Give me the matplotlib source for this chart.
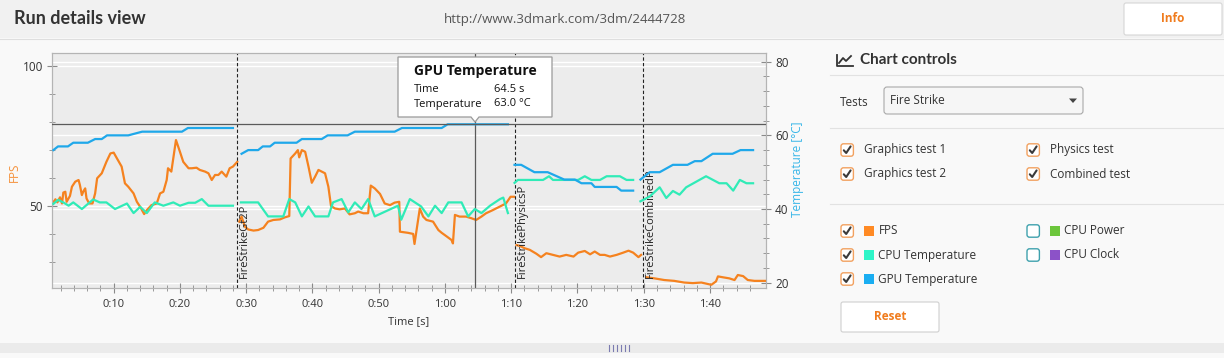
import matplotlib
matplotlib.use("Agg")
import matplotlib.pyplot as plt
from matplotlib.patches import FancyBboxPatch, Rectangle, Polygon
from matplotlib.transforms import blended_transform_factory

plt.rcParams["font.family"] = ["Open Sans", "DejaVu Sans"]

# ---- data (time in s) ----
fps_t1 = [0.7, 0.9, 1.2, 1.5, 1.9, 2.2, 2.4, 2.7, 2.9, 3.4, 3.7, 4.2, 4.7, 4.9, 5.2, 5.4, 5.7, 5.9, 6.3, 6.8,
          7.2, 7.5, 8.2, 8.9, 9.5, 10.0, 10.5, 11.2, 11.7, 12.2, 13.0, 13.5, 14.0, 14.6, 15.0, 15.7, 16.5, 17.0,
          17.5, 18.0, 18.2, 18.7, 19.4, 20.0, 20.5, 21.3, 21.8, 22.5, 23.0, 23.8, 24.3, 24.8, 25.3, 25.8, 26.3,
          27.0, 27.5, 28.0, 28.65]
fps_v1 = [52.0, 50.8, 52.3, 51.2, 53.0, 50.8, 54.7, 55.0, 51.4, 53.5, 56.8, 58.6, 59.2, 57.4, 53.8, 55.0, 56.2,
          52.6, 50.8, 50.8, 54.4, 59.8, 61.6, 65.7, 68.7, 69.0, 66.9, 64.0, 58.0, 56.8, 54.4, 51.4, 49.6, 47.0,
          48.4, 50.2, 50.8, 54.4, 55.0, 59.2, 63.4, 62.2, 73.5, 69.3, 65.7, 63.4, 63.4, 63.6, 62.8, 62.2, 61.6,
          59.2, 61.0, 61.0, 62.2, 60.4, 63.4, 64.0, 65.7]
fps_t2 = [28.95, 29.3, 29.8, 30.3, 31.1, 31.8, 32.6, 33.3, 34.1, 35.1, 35.8, 36.5, 36.7, 37.4, 37.8, 38.0, 38.4,
          38.9, 39.4, 39.9, 40.4, 40.9, 41.4, 41.9, 42.4, 42.8, 43.4, 44.1, 44.9, 45.6, 46.4, 46.9, 47.7, 48.4,
          48.8, 49.4, 50.2, 50.9, 51.7, 52.4, 53.1, 53.2, 54.4, 55.2, 55.4, 56.2, 56.7, 57.2, 58.2, 59.0, 59.5,
          60.2, 61.0, 61.2, 61.5, 62.2, 63.2, 64.0, 64.7, 65.5, 66.2, 67.2, 68.2, 69.2, 69.9, 70.4]
fps_v2 = [44.3, 46.1, 42.5, 41.5, 41.1, 41.3, 42.1, 44.3, 44.9, 45.1, 45.8, 46.3, 66.9, 68.7, 69.9, 67.3, 69.9,
          69.3, 64.0, 58.2, 60.4, 62.8, 62.2, 61.6, 56.8, 49.9, 49.0, 48.7, 49.0, 46.9, 47.3, 47.9, 47.3, 47.3,
          57.2, 56.2, 54.2, 50.8, 50.2, 51.1, 51.4, 40.7, 40.3, 39.9, 36.3, 49.0, 46.1, 44.9, 44.3, 41.3, 40.3,
          39.1, 37.7, 36.5, 46.7, 46.1, 46.1, 45.5, 44.9, 46.1, 47.3, 48.4, 49.6, 50.8, 53.2, 53.2]
fps_t3 = [70.8, 71.3, 72.0, 72.8, 73.8, 74.5, 75.3, 76.3, 77.3, 78.3, 79.4, 80.1, 81.1, 81.9, 82.6, 83.4, 84.1,
          84.9, 85.9, 86.9, 87.7, 88.4, 89.2, 89.6]
fps_v3 = [35.9, 35.6, 34.8, 34.2, 32.8, 31.6, 33.0, 32.4, 31.8, 32.4, 31.8, 33.2, 33.8, 32.6, 33.6, 32.4, 32.4,
          31.8, 32.4, 33.2, 33.9, 33.2, 31.6, 32.4]
fps_t4 = [90.4, 91.6, 93.1, 94.6, 96.1, 97.4, 98.7, 100.2, 100.9, 101.2, 101.9, 102.9, 103.7, 104.2, 105.0,
          105.7, 106.7, 108.4]
fps_v4 = [24.4, 24.0, 23.4, 23.1, 22.5, 22.3, 22.5, 21.7, 22.9, 24.7, 24.4, 24.0, 23.4, 25.2, 24.8, 23.4, 23.1,
          23.1]

cpu_t1 = [0.9, 1.6, 2.4, 3.2, 3.9, 5.2, 6.9, 7.9, 8.9, 10.2, 12.0, 13.0, 14.0, 15.0, 16.2, 17.5, 19.0, 20.0,
          21.3, 22.3, 23.3, 24.3, 28.0]
cpu_v1 = [41.4, 42.5, 41.8, 40.9, 41.8, 40.0, 42.6, 41.8, 41.8, 40.0, 41.5, 38.9, 40.6, 38.9, 41.8, 40.9, 41.8,
          40.9, 41.7, 41.7, 42.7, 40.9, 40.9]
cpu_t2 = [29.2, 31.8, 33.3, 35.6, 36.5, 37.4, 38.4, 39.4, 40.4, 42.4, 43.1, 44.4, 45.4, 46.4, 47.4, 48.4, 49.4,
          52.9, 53.4, 54.7, 56.4, 57.5, 58.5, 59.5, 60.5, 62.5, 63.5, 64.5, 65.5, 66.8, 68.3, 68.8, 69.5]
cpu_v2 = [41.8, 41.8, 38.0, 38.0, 42.7, 41.8, 38.0, 40.7, 38.0, 38.0, 41.8, 42.7, 39.1, 41.8, 40.0, 42.7, 38.0,
          40.9, 37.1, 42.7, 40.7, 38.0, 40.9, 38.9, 41.8, 41.8, 38.0, 40.0, 38.9, 40.9, 42.7, 43.1, 38.9]
cpu_t3 = [70.5, 71.0, 74.8, 75.7, 76.3, 80.1, 81.1, 82.1, 83.4, 84.4, 86.4, 87.4, 88.4]
cpu_v3 = [47.1, 47.9, 47.9, 48.9, 47.9, 47.9, 48.9, 47.9, 47.9, 48.9, 48.9, 47.9, 47.9]
cpu_t4 = [89.5, 90.9, 92.4, 93.4, 94.4, 95.4, 96.4, 99.4, 101.4, 102.5, 103.5, 104.5, 105.5, 106.5]
cpu_v4 = [42.1, 43.4, 45.9, 43.0, 44.9, 43.9, 45.9, 48.9, 47.0, 47.0, 45.0, 47.9, 47.0, 47.0]

gpu_t1 = [0.9, 1.6, 3.1, 3.9, 6.1, 7.2, 8.2, 9.0, 12.2, 14.3, 20.3, 21.2, 28.0]
gpu_v1 = [56, 57, 57, 58, 58, 59, 59, 60, 60, 61, 61, 62, 62]
gpu_t2 = [29.3, 30.3, 31.8, 32.5, 33.6, 34.3, 37.6, 38.4, 41.4, 42.3, 45.3, 46.4, 52.4, 53.5, 59.5, 60.4, 69.5]
gpu_v2 = [55, 56, 56, 57, 57, 58, 58, 59, 59, 60, 60, 61, 61, 62, 62, 63, 63]
gpu_t3 = [70.5, 71.5, 73.5, 75.5, 78.0, 79.6, 80.6, 82.1, 82.6, 85.9, 86.6, 88.4]
gpu_v3 = [52, 52, 50, 50, 48, 48, 47, 47, 46, 46, 45, 45]
gpu_t4 = [89.5, 90.9, 92.4, 94.4, 96.6, 97.7, 98.7, 100.4, 103.4, 104.6, 106.5]
gpu_v4 = [48, 50, 50, 52, 52, 53, 53, 55, 55, 56, 56]

markers_t = [28.6, 70.6, 89.9]
markers_lbl = ["FireStrikeGt2P", "FireStrikePhysicsP", "FireStrikeCombinedP"]
xticks = [10, 20, 30, 40, 50, 60, 70, 80, 90, 100]
xtick_lbl = ["0:10", "0:20", "0:30", "0:40", "0:50", "1:00", "1:10", "1:20", "1:30", "1:40"]
hover_t, hover_temp = 64.5, 63.0

FPS_C, CPU_C, GPU_C = "#f5821f", "#30ebb7", "#1fa8ea"
ORANGE = "#f07c1e"
W, H = 1224, 358

fig = plt.figure(figsize=(W / 100, H / 100), dpi=100, facecolor="#f9f9f9")

# background / UI layer in pixel coords (y down)
bg = fig.add_axes([0, 0, 1, 1], zorder=-5)
bg.set_xlim(0, W); bg.set_ylim(H, 0); bg.axis("off")


def box(a, x, y, w, h, fc, ec, r=2, lw=0.8):
    a.add_patch(FancyBboxPatch((x, y), w, h, boxstyle=f"round,pad=0,rounding_size={r}",
                               fc=fc, ec=ec, lw=lw))


bg.add_patch(Rectangle((0, 0), W, 38, fc="#f1f1f1", ec="none"))
bg.plot([0, W], [38.5, 38.5], color="#dedede", lw=0.8)
bg.text(14, 19, "Run details view", family="Lato", weight="bold", fontsize=13, color="#333333",
        va="center", ha="left")
bg.text(565, 19, "http://www.3dmark.com/3dm/2444728", fontsize=9.5, color="#555555", va="center", ha="center")
box(bg, 1124, 3, 98, 32, "white", "#d6d6d6", r=2)
bg.text(1173, 19, "Info", fontsize=8.5, weight="bold", color=ORANGE, ha="center", va="center")
# bottom strip with handle
bg.add_patch(Rectangle((0, 343), W, 10, fc="#ebebeb", ec="none"))
for hx in range(609, 630, 4):
    bg.plot([hx, hx], [345, 351], color="#7b7bb0", lw=0.8)

# axis titles
bg.text(14, 172, "FPS", rotation=90, fontsize=8.5, color="#f5913a", ha="center", va="center")
bg.text(798, 169, "Temperature [°C]", rotation=90, fontsize=8.5, color="#38b6e8", ha="center", va="center")
bg.text(409, 322, "Time [s]", fontsize=8, color="#333333", ha="center", va="center")

# right panel: chart controls
bg.plot([837, 837, 853], [55, 66, 66], color="#333333", lw=1.3)
bg.plot([839, 843, 846, 851], [63, 58, 61, 56], color="#333333", lw=1.3)
bg.text(860, 60.5, "Chart controls", family="Lato", weight="bold", fontsize=11, color="#333333",
        va="center", ha="left")
for sy in [75, 127.5, 203.5]:
    bg.plot([830, W], [sy, sy], color="#e2e2e2", lw=0.8)
bg.text(840, 102, "Tests", fontsize=8.5, color="#333333", va="center")
box(bg, 884, 87, 199, 27, "#f6f6f6", "#a9a9a9", r=3)
bg.text(890, 101, "Fire Strike", fontsize=8.5, color="#333333", va="center")
bg.add_patch(Polygon([[1069, 98.5], [1077, 98.5], [1073, 103]], closed=True, fc="#444444", ec="none"))


def checkbox(x, y, checked):
    box(bg, x, y - 6.2, 12.4, 12.4, "white", "#f2a160" if checked else "#3fa1ad", r=2.5, lw=1.0)
    if checked:
        bg.plot([x + 2.8, x + 5.2, x + 9.6], [y + 0.3, y + 3.0, y - 3.6], color="#3a3a3a", lw=1.5,
                solid_capstyle="round", solid_joinstyle="round")


test_rows = [("Graphics test 1", 841, 150), ("Graphics test 2", 841, 174),
             ("Physics test", 1027, 150), ("Combined test", 1027, 174)]
for name, cx, cy in test_rows:
    checkbox(cx, cy, True)
    bg.text(cx + 22.5, cy, name, fontsize=8.5, color="#333333", va="center")

series_rows = [("FPS", "#ff8a24", True, 841, 231), ("CPU Temperature", "#2ef5c8", True, 841, 255),
               ("GPU Temperature", "#1aaef2", True, 841, 279), ("CPU Power", "#6cc63c", False, 1027, 231),
               ("CPU Clock", "#8c52c8", False, 1027, 255)]
for name, col, on, cx, cy in series_rows:
    checkbox(cx, cy, on)
    bg.add_patch(Rectangle((cx + 22.5, cy - 5), 10, 10, fc=col, ec="none"))
    bg.text(cx + 37.5, cy, name, fontsize=8.5, color="#333333", va="center")

box(bg, 841, 302, 98, 30, "white", "#cfcfcf", r=2)
bg.text(890, 317, "Reset", fontsize=8.5, weight="bold", color=ORANGE, ha="center", va="center")

# ---- the chart ----
x0, x1, y0, y1 = 52, 766, 53, 288.3
ax = fig.add_axes([x0 / W, 1 - y1 / H, (x1 - x0) / W, (y1 - y0) / H], zorder=1)
ax.set_facecolor("#ececec")
ax2 = ax.twinx()
ax.set_xlim(0.69, 108.45)
ax.set_ylim(20.44, 104.65)
ax2.set_ylim(18.48, 82.36)

for s in list(ax.spines.values()) + list(ax2.spines.values()):
    s.set_color("#b4b4b4"); s.set_linewidth(0.8)

# white grid (FPS majors + temperature majors)
for v in [50, 100]:
    ax.axhline(v, color="white", lw=1.0, zorder=0.5)
tr = blended_transform_factory(ax.transAxes, ax2.transData)
for v in [20, 40, 60, 80]:
    ax.plot([0, 1], [v, v], transform=tr, color="white", lw=1.0, zorder=0.5)

for t, v in [(fps_t1, fps_v1), (fps_t2, fps_v2), (fps_t3, fps_v3), (fps_t4, fps_v4)]:
    ax.plot(t, v, color=FPS_C, lw=1.6, zorder=3)
for t, v in [(cpu_t1, cpu_v1), (cpu_t2, cpu_v2), (cpu_t3, cpu_v3), (cpu_t4, cpu_v4)]:
    ax2.plot(t, v, color=CPU_C, lw=1.6, zorder=3)
for t, v in [(gpu_t1, gpu_v1), (gpu_t2, gpu_v2), (gpu_t3, gpu_v3), (gpu_t4, gpu_v4)]:
    ax2.plot(t, v, color=GPU_C, lw=1.6, zorder=3)

# test boundaries
for t, lbl in zip(markers_t, markers_lbl):
    ax.axvline(t, color="#222222", lw=0.8, ls=(0, (3, 2)), zorder=4)
    ax.text(t + 0.3, 0.045, lbl, rotation=90, transform=blended_transform_factory(ax.transData, ax.transAxes),
            fontsize=8, color="#222222", ha="left", va="bottom", zorder=4)

# hover crosshair
ax2.axhline(hover_temp, color="#5a5a5a", lw=0.9, zorder=5)
ax.axvline(hover_t, color="#5a5a5a", lw=0.9, zorder=5)

ax.set_xticks(xticks)
ax.set_xticklabels(xtick_lbl)
ax.set_xticks(range(2, 108, 2), minor=True)
ax.set_yticks([50, 100])
ax.set_yticks(range(30, 101, 10), minor=True)
ax2.set_yticks([20, 40, 60, 80])
ax2.set_yticks(range(20, 81, 4), minor=True)
ax.tick_params(axis="x", which="major", direction="inout", length=7, color="#8a8a8a", labelsize=8,
               labelcolor="#333333", pad=4)
ax.tick_params(axis="x", which="minor", direction="inout", length=4, color="#8a8a8a")
ax.tick_params(axis="y", which="major", direction="inout", length=7, color="#8a8a8a", labelsize=8.5,
               labelcolor="#333333", pad=3)
ax.tick_params(axis="y", which="minor", direction="inout", length=4, color="#8a8a8a")
ax2.tick_params(axis="y", which="major", direction="inout", length=7, color="#8a8a8a", labelsize=8.5,
                labelcolor="#333333", pad=3)
ax2.tick_params(axis="y", which="minor", direction="inout", length=4, color="#8a8a8a")

# tooltip layer
fg = fig.add_axes([0, 0, 1, 1], zorder=10)
fg.set_xlim(0, W); fg.set_ylim(H, 0); fg.axis("off"); fg.patch.set_alpha(0)
fg.add_patch(Polygon([[398, 57], [552, 57], [552, 117], [479, 117], [475, 122], [471, 117], [398, 117]],
                     closed=True, fc="white", ec="#9a9a9a", lw=0.9))
fg.text(414, 71, "GPU Temperature", fontsize=10, weight="bold", color="#111111", va="center")
fg.text(414, 89.5, "Time", fontsize=8, color="#111111", va="center")
fg.text(494, 89.5, f"{hover_t:.1f} s", fontsize=8, color="#111111", va="center")
fg.text(414, 104, "Temperature", fontsize=8, color="#111111", va="center")
fg.text(494, 104, f"{hover_temp:.1f} °C", fontsize=8, color="#111111", va="center")

fig.savefig("out.png", dpi=100, facecolor=fig.get_facecolor())
